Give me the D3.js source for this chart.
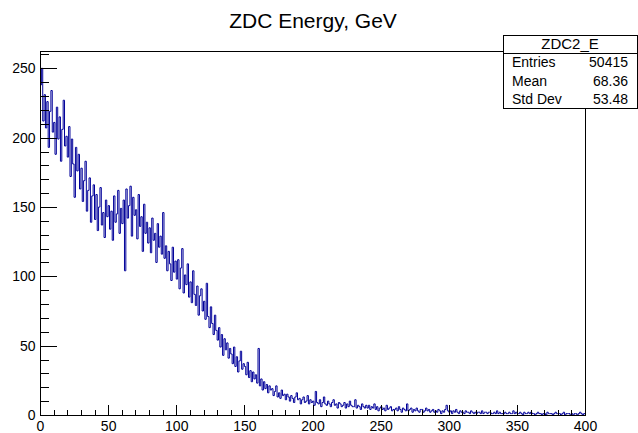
<!DOCTYPE html>
<html>
<head>
<meta charset="utf-8">
<script src="https://cdn.jsdelivr.net/npm/d3@7"></script>
<style>
  html, body { margin: 0; padding: 0; background: #fff; }
  svg { display: block; }
  text { font-family: "Liberation Sans", Arial, Helvetica, sans-serif; fill: #000; }
</style>
</head>
<body>
<svg id="chart" width="638" height="433"></svg>
<script>
// ---------- data ----------
const title = "ZDC Energy, GeV";
const histName = "ZDC2_E";
const xRange = [0, 400];
const xMajorTicks = [0, 50, 100, 150, 200, 250, 300, 350, 400];
const yMajorTicks = [0, 50, 100, 150, 200, 250];
const statLabels = ["Entries", "Mean", "Std Dev"];
const statValues = ["50415", "68.36", "53.48"];

// bin contents, 400 bins of width 1 GeV (0..400)
const counts = [
  238, 250, 212, 231, 207, 226, 193, 219, 234, 204,
  211, 188, 222, 199, 215, 183, 206, 227, 194, 201,
  186, 208, 172, 199, 181, 157, 193, 176, 188, 163,
  178, 154, 169, 183, 147, 162, 171, 139, 158, 166,
  141, 159, 133, 150, 164, 137, 146, 128, 155, 143,
  151, 134, 147, 126, 158, 139, 145, 162, 131, 149,
  138, 155, 104, 163, 142, 151, 165, 129, 157, 144,
  148, 127, 159, 136, 143, 118, 152, 131, 139, 124,
  135, 117, 142, 126, 131, 110, 138, 121, 129, 116,
  146, 113, 122, 104, 118, 109, 97, 121, 103, 111,
  98, 112, 91, 106, 120, 88, 101, 94, 109, 85,
  96, 81, 104, 87, 79, 93, 72, 86, 91, 75,
  82, 69, 95, 71, 63, 78, 66, 58, 72, 61,
  54, 63, 49, 58, 43, 55, 47, 52, 41, 48,
  44, 37, 49, 35, 42, 31, 39, 46, 33, 37,
  35, 29, 38, 27, 32, 24, 31, 26, 29, 23,
  48, 21, 26, 18, 24, 19, 22, 16, 21, 18,
  19, 14, 17, 21, 13, 16, 12, 18, 14, 15,
  11, 15, 13, 10, 14, 12, 9, 13, 16, 11,
  12, 8, 11, 13, 9, 10, 14, 8, 11, 9,
  10, 7, 17, 9, 8, 11, 6, 9, 13, 8,
  7, 10, 8, 6, 9, 11, 7, 8, 5, 9,
  8, 6, 7, 9, 5, 8, 6, 10, 7, 6,
  6, 11, 5, 7, 6, 4, 8, 6, 5, 7,
  5, 7, 4, 6, 5, 8, 4, 6, 3, 5,
  6, 4, 5, 3, 7, 4, 5, 6, 3, 4,
  4, 5, 3, 6, 4, 2, 5, 4, 3, 8,
  3, 4, 5, 2, 4, 3, 5, 3, 2, 4,
  4, 2, 3, 5, 3, 4, 2, 3, 4, 2,
  3, 2, 4, 3, 1, 3, 2, 4, 7, 3,
  2, 3, 1, 3, 2, 4, 2, 1, 3, 2,
  2, 1, 3, 2, 2, 1, 3, 2, 1, 2,
  1, 2, 2, 1, 3, 1, 2, 2, 1, 2,
  2, 1, 1, 2, 1, 3, 1, 2, 1, 1,
  1, 2, 1, 1, 2, 1, 1, 3, 1, 2,
  1, 1, 2, 1, 0, 2, 1, 1, 2, 1,
  2, 1, 1, 0, 1, 2, 1, 1, 0, 1,
  1, 0, 2, 1, 1, 1, 0, 1, 2, 1,
  1, 1, 0, 1, 2, 0, 1, 1, 1, 0,
  1, 0, 1, 1, 0, 1, 2, 1, 0, 1
];

// ---------- layout ----------
const frame = { left: 40, right: 585, top: 51, bottom: 415 };
const svg = d3.select("#chart");
const binWidth = (xRange[1] - xRange[0]) / counts.length;

const x = d3.scaleLinear().domain(xRange).range([frame.left, frame.right]);
const y = d3.scaleLinear().domain([0, d3.max(counts) * 1.05]).range([frame.bottom, frame.top]);

// title
svg.append("text")
  .attr("x", 313).attr("y", 28)
  .attr("text-anchor", "middle")
  .style("font-size", "21px")
  .text(title);

// histogram (step line)
const pts = counts.map((c, i) => [xRange[0] + i * binWidth, c]);
pts.push([xRange[1], counts[counts.length - 1]]);
const line = d3.line()
  .x(d => x(d[0]))
  .y(d => y(d[1]))
  .curve(d3.curveStepAfter);
svg.append("path")
  .datum(pts)
  .attr("d", line)
  .attr("fill", "none")
  .attr("stroke", "#000099")
  .attr("stroke-width", 1);

// frame
svg.append("rect")
  .attr("x", frame.left + 0.5).attr("y", frame.top + 0.5)
  .attr("width", frame.right - frame.left).attr("height", frame.bottom - frame.top)
  .attr("fill", "none").attr("stroke", "#000").attr("stroke-width", 1)
  .attr("shape-rendering", "crispEdges");

// y axis
const yMinor = d3.range(0, y.domain()[1], 10).filter(v => v % 50 !== 0);
const gyMinor = svg.append("g")
  .attr("transform", `translate(${frame.left + 0.5},0)`)
  .call(d3.axisLeft(y).tickValues(yMinor).tickSize(-8).tickSizeOuter(0).tickFormat(""));
const gy = svg.append("g")
  .attr("transform", `translate(${frame.left + 0.5},0)`)
  .call(d3.axisLeft(y).tickValues(yMajorTicks).tickSize(-16).tickSizeOuter(0).tickPadding(5));

// x axis
const xMinor = d3.range(xRange[0], xRange[1] + 1, 10).filter(v => v % 50 !== 0);
const gxMinor = svg.append("g")
  .attr("transform", `translate(0,${frame.bottom + 0.5})`)
  .call(d3.axisBottom(x).tickValues(xMinor).tickSize(-5.5).tickSizeOuter(0).tickFormat(""));
const gx = svg.append("g")
  .attr("transform", `translate(0,${frame.bottom + 0.5})`)
  .call(d3.axisBottom(x).tickValues(xMajorTicks).tickSize(-11).tickSizeOuter(0).tickPadding(6));

[gyMinor, gy, gxMinor, gx].forEach(g => {
  g.select(".domain").remove();
  g.selectAll("line").attr("stroke", "#000").attr("shape-rendering", "crispEdges");
  g.selectAll("text").style("font-size", "14px")
    .style("font-family", '"Liberation Sans", Arial, sans-serif').attr("fill", "#000");
});

// stats box
const box = { x: 503, y: 35, w: 134, h: 73, head: 18 };
svg.append("rect")
  .attr("x", box.x + 0.5).attr("y", box.y + 0.5)
  .attr("width", box.w).attr("height", box.h)
  .attr("fill", "#fff").attr("stroke", "#000").attr("stroke-width", 1)
  .attr("shape-rendering", "crispEdges");
svg.append("line")
  .attr("x1", box.x).attr("x2", box.x + box.w)
  .attr("y1", box.y + box.head + 0.5).attr("y2", box.y + box.head + 0.5)
  .attr("stroke", "#000").attr("shape-rendering", "crispEdges");
svg.append("text")
  .attr("x", box.x + box.w / 2).attr("y", box.y + 14)
  .attr("text-anchor", "middle")
  .style("font-size", "15px")
  .text(histName);
const rowH = (box.h - box.head) / statLabels.length;
statLabels.forEach((lab, i) => {
  const by = box.y + box.head + rowH * (i + 1) - 4;
  svg.append("text").attr("x", box.x + 9).attr("y", by)
    .style("font-size", "14px").text(lab);
  svg.append("text").attr("x", box.x + box.w - 9).attr("y", by)
    .attr("text-anchor", "end")
    .style("font-size", "14px").text(statValues[i]);
});
</script>
</body>
</html>
